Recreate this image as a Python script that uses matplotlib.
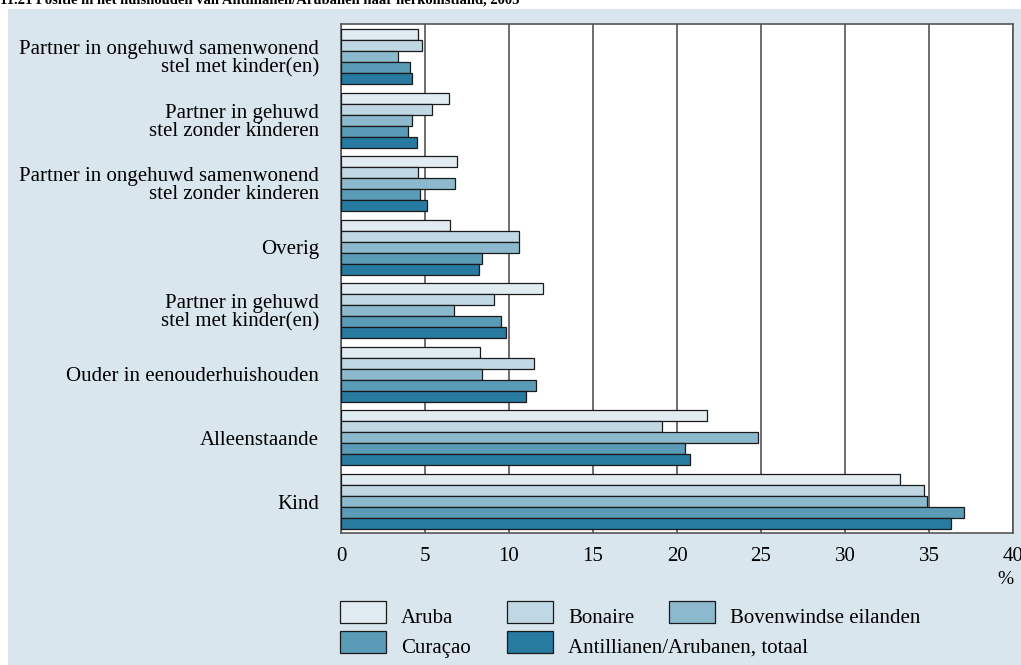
import numpy as np
import matplotlib
matplotlib.use("Agg")
import matplotlib.pyplot as plt
from matplotlib.patches import Rectangle

# Categories, top to bottom
categories = [
    "Partner in ongehuwd samenwonend\nstel met kinder(en)",
    "Partner in gehuwd\nstel zonder kinderen",
    "Partner in ongehuwd samenwonend\nstel zonder kinderen",
    "Overig",
    "Partner in gehuwd\nstel met kinder(en)",
    "Ouder in eenouderhuishouden",
    "Alleenstaande",
    "Kind",
]

series_names = ["Aruba", "Bonaire", "Bovenwindse eilanden", "Curaçao",
                "Antillianen/Arubanen, totaal"]

aruba = [4.6, 6.4, 6.9, 6.5, 12.0, 8.3, 21.8, 33.3]
bonaire = [4.8, 5.4, 4.6, 10.6, 9.1, 11.5, 19.1, 34.7]
bovenwindse = [3.4, 4.2, 6.8, 10.6, 6.7, 8.4, 24.8, 34.9]
curacao = [4.1, 4.0, 4.7, 8.4, 9.5, 11.6, 20.5, 37.1]
totaal = [4.2, 4.5, 5.1, 8.2, 9.8, 11.0, 20.8, 36.3]

x_ticks = [0, 5, 10, 15, 20, 25, 30, 35, 40]

colors = ["#e1ecf2", "#c0d8e4", "#8cb9cd", "#5a9bb8", "#277aa0"]
panel_bg = "#d9e6ed"
font = "Liberation Serif"
fs = 15

W, H = 1021, 665
fig = plt.figure(figsize=(W / 100, H / 100), dpi=100)
fig.patch.set_facecolor("white")

# light blue panel behind everything
fig.add_artist(Rectangle((8 / W, 0), 1 - 8 / W, 1 - 9 / H, transform=fig.transFigure,
                         facecolor=panel_bg, edgecolor="none", zorder=-10))

# title, cut off at the top as in the source
fig.text(0.0, 1 - 4 / H,
         "11.21 Positie in het huishouden van Antillianen/Arubanen naar herkomstland, 2005",
         fontfamily=font, fontweight="bold", fontsize=10.5, ha="left", va="baseline")

ax = fig.add_axes([341 / W, 1 - 533 / H, (1013 - 341) / W, (533 - 24) / H])
ax.set_facecolor("white")

h = 0.173
y = np.arange(len(categories))
all_series = [aruba, bonaire, bovenwindse, curacao, totaal]
for j, (vals, c) in enumerate(zip(all_series, colors)):
    ax.barh(y + (j - 2) * h, vals, height=h, color=c, edgecolor="#1a1a1a",
            linewidth=0.9, zorder=3)

ax.set_xlim(0, 40)
ax.set_ylim(7.495, -0.511)
ax.set_xticks(x_ticks)
ax.set_xticklabels([str(t) for t in x_ticks], fontfamily=font, fontsize=fs)
ax.set_yticks(y)
ax.set_yticklabels(categories, fontfamily=font, fontsize=fs, linespacing=0.95)
ax.tick_params(axis="both", length=0)
ax.tick_params(axis="x", pad=10)
ax.tick_params(axis="y", pad=16)
ax.grid(axis="x", color="#555555", linewidth=1.2, zorder=1)
ax.grid(axis="y", visible=False)
for s in ax.spines.values():
    s.set_color("#555555")
    s.set_linewidth(1.2)

fig.text(1005 / W, 1 - 580 / H, "%", fontfamily=font, fontsize=14,
         ha="center", va="center")

# legend drawn by hand to match the source's layout
legend_pos = [(340, 601), (507, 601), (669, 601), (340, 631), (507, 631)]
for (lx, ly), name, c in zip(legend_pos, series_names, colors):
    fig.add_artist(Rectangle((lx / W, 1 - (ly + 22) / H), 46 / W, 22 / H,
                             transform=fig.transFigure, facecolor=c,
                             edgecolor="#1a1a1a", linewidth=0.9))
    fig.text((lx + 61) / W, 1 - (ly + 22) / H, name, fontfamily=font, fontsize=fs,
             ha="left", va="baseline")

fig.savefig("out.png", dpi=100)
